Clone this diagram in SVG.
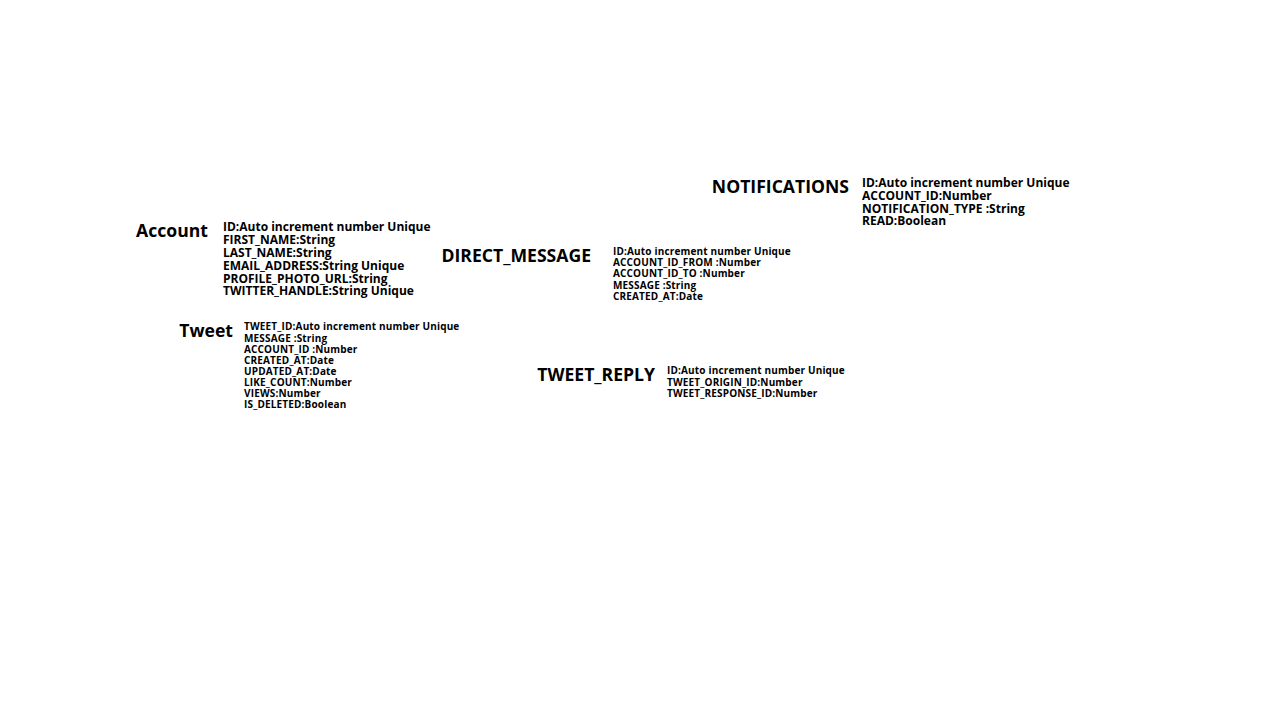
<svg xmlns="http://www.w3.org/2000/svg" width="1280" height="720" viewBox="0 0 1280 720">
<style>
.t{font-family:"Open Sans","Liberation Sans",sans-serif;font-weight:bold;font-size:17.6px;fill:#000}
.a12{font-family:"Open Sans","Liberation Sans",sans-serif;font-weight:bold;font-size:12px;fill:#000}
.a10{font-family:"Open Sans","Liberation Sans",sans-serif;font-weight:bold;font-size:10px;letter-spacing:0.16px;fill:#000}
</style>
<rect width="1280" height="720" fill="#fff"/>
<g id="account">
<text class="t" x="208" y="237" text-anchor="end">Account</text>
<text class="a12" x="223" y="231">ID:Auto increment number Unique</text>
<text class="a12" x="223" y="244">FIRST_NAME:String</text>
<text class="a12" x="223" y="257">LAST_NAME:String</text>
<text class="a12" x="223" y="270">EMAIL_ADDRESS:String Unique</text>
<text class="a12" x="223" y="282.5">PROFILE_PHOTO_URL:String</text>
<text class="a12" x="223" y="295">TWITTER_HANDLE:String Unique</text>
</g>
<g id="tweet">
<text class="t" x="233" y="337" text-anchor="end">Tweet</text>
<text class="a10" x="244" y="330">TWEET_ID:Auto increment number Unique</text>
<text class="a10" x="244" y="342">MESSAGE :String</text>
<text class="a10" x="244" y="353">ACCOUNT_ID :Number</text>
<text class="a10" x="244" y="364">CREATED_AT:Date</text>
<text class="a10" x="244" y="375">UPDATED_AT:Date</text>
<text class="a10" x="244" y="386">LIKE_COUNT:Number</text>
<text class="a10" x="244" y="397">VIEWS:Number</text>
<text class="a10" x="244" y="408">IS_DELETED:Boolean</text>
</g>
<g id="direct_message">
<text class="t" x="591" y="262" text-anchor="end">DIRECT_MESSAGE</text>
<text class="a10" x="613" y="255">ID:Auto increment number Unique</text>
<text class="a10" x="613" y="266">ACCOUNT_ID_FROM :Number</text>
<text class="a10" x="613" y="277">ACCOUNT_ID_TO :Number</text>
<text class="a10" x="613" y="289">MESSAGE :String</text>
<text class="a10" x="613" y="300">CREATED_AT:Date</text>
</g>
<g id="notifications">
<text class="t" x="849" y="193" text-anchor="end">NOTIFICATIONS</text>
<text class="a12" x="862" y="187">ID:Auto increment number Unique</text>
<text class="a12" x="862" y="200">ACCOUNT_ID:Number</text>
<text class="a12" x="862" y="212.5">NOTIFICATION_TYPE :String</text>
<text class="a12" x="862" y="225">READ:Boolean</text>
</g>
<g id="tweet_reply">
<text class="t" x="655" y="381" text-anchor="end">TWEET_REPLY</text>
<text class="a10" x="667" y="374">ID:Auto increment number Unique</text>
<text class="a10" x="667" y="386">TWEET_ORIGIN_ID:Number</text>
<text class="a10" x="667" y="397">TWEET_RESPONSE_ID:Number</text>
</g>
<g id="connectors"></g>
</svg>
